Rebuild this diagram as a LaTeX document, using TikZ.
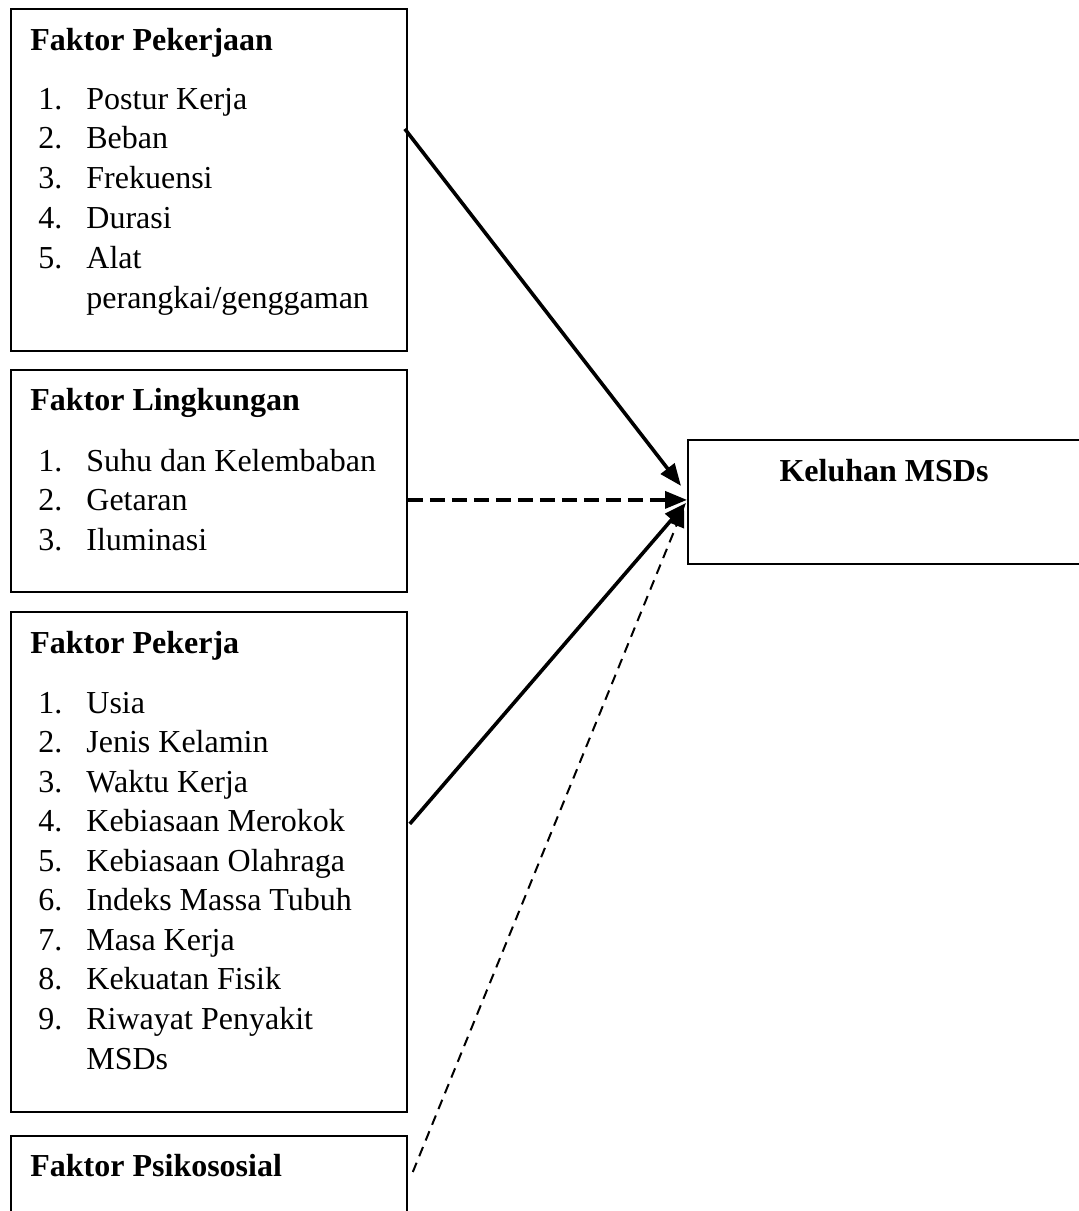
\documentclass[tikz,border=0pt]{standalone}
\usepackage{fontspec}
\setmainfont{Liberation Serif}
\usetikzlibrary{arrows.meta}
\tikzset{
  box/.style={draw, line width=0.9pt, inner sep=0pt, anchor=north west},
  title/.style={font=\fontsize{16}{20}\selectfont\bfseries, inner sep=0pt, anchor=base west},
  num/.style={font=\fontsize{16}{20}\selectfont, inner sep=0pt, anchor=base west},
  arr/.style={line width=1.8pt, -{Triangle[length=11pt,width=8.5pt]}},
  thickdash/.style={arr, dash pattern=on 7.5pt off 3.5pt},
  thindash/.style={line width=1pt, dash pattern=on 5pt off 3.5pt, -{Triangle[length=10pt,width=8pt]}}
}
\begin{document}
\begin{tikzpicture}[x=0.5pt,y=-0.5pt]
\useasboundingbox (0,0) rectangle (1078,1211);

% Faktor Pekerjaan
\node[box, minimum width=198pt, minimum height=171pt] (pek) at (10,8) {};
\node[title] (pekt) at (30,50) {Faktor Pekerjaan};
\foreach \txt [count=\i] in {Postur Kerja,Beban,Frekuensi,Durasi,Alat}
  \node[num] (pekn\i) at (38,{109+39.8*(\i-1)}) {\i.}
        node[num] (peki\i) at (86,{109+39.8*(\i-1)}) {\txt};
\node[num] (peki6) at (86,308) {perangkai/genggaman};

% Faktor Lingkungan
\node[box, minimum width=198pt, minimum height=111pt] (ling) at (10,369) {};
\node[title] (lingt) at (30,410) {Faktor Lingkungan};
\foreach \txt [count=\i] in {Suhu dan Kelembaban,Getaran,Iluminasi}
  \node[num] (lingn\i) at (38,{471+39.6*(\i-1)}) {\i.}
        node[num] (lingi\i) at (86,{471+39.6*(\i-1)}) {\txt};

% Faktor Pekerja
\node[box, minimum width=198pt, minimum height=250pt] (pkj) at (10,611) {};
\node[title] (pkjt) at (30,653) {Faktor Pekerja};
\foreach \txt [count=\i] in {Usia,Jenis Kelamin,Waktu Kerja,Kebiasaan Merokok,Kebiasaan Olahraga,Indeks Massa Tubuh,Masa Kerja,Kekuatan Fisik,Riwayat Penyakit}
  \node[num] (pkjn\i) at (38,{713+39.5*(\i-1)}) {\i.}
        node[num] (pkji\i) at (86,{713+39.5*(\i-1)}) {\txt};
\node[num] (pkji10) at (86,1069) {MSDs};

% Faktor Psikososial (cut off at the bottom)
\node[box, minimum width=198pt, minimum height=60pt] (psi) at (10,1135) {};
\node[title] (psit) at (30,1176) {Faktor Psikososial};

% Keluhan MSDs (runs past the right edge)
\node[box, minimum width=200pt, minimum height=62pt] (msd) at (687,439) {};
\node[title, anchor=base] (msdt) at (884,481) {Keluhan MSDs};

% arrows
\coordinate (s1) at ([shift={(-3,-51)}]pek.east);
\coordinate (s2) at ([shift={(0,19)}]ling.east);
\coordinate (s3) at ([shift={(2,-38)}]pkj.east);
\coordinate (s4) at ([shift={(5,37)}]psi.north east);
\draw[arr] (s1) -- ([shift={(-6,-16)}]msd.west);
\draw[thickdash] (s2) -- ([shift={(0,-2)}]msd.west);
\draw[arr] (s3) -- ([shift={(-1,1)}]msd.west);
\draw[thindash] (s4) -- ([shift={(-3,5)}]msd.west);
\end{tikzpicture}
\end{document}
